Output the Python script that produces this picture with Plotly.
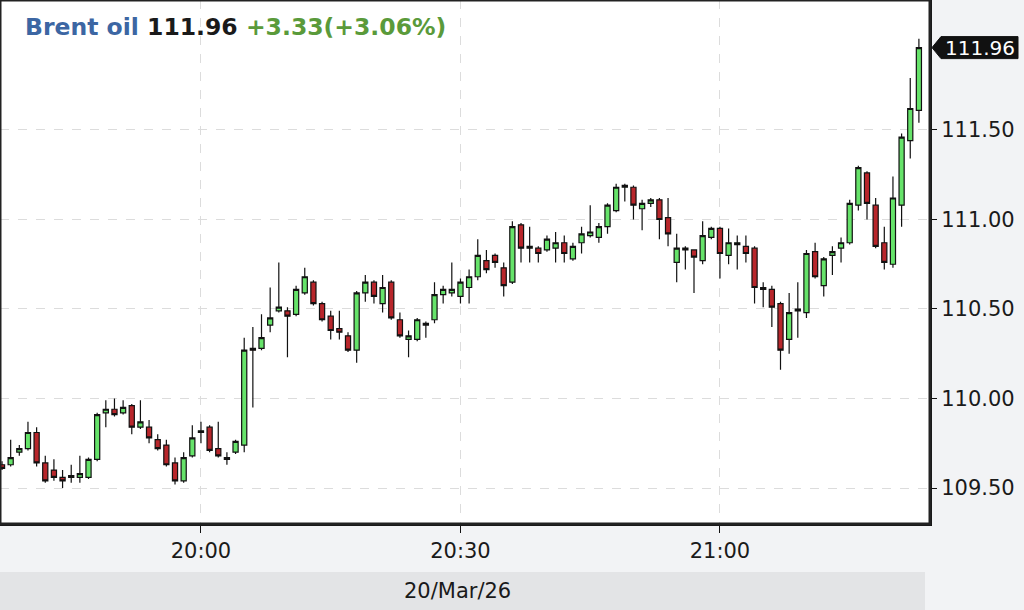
import pandas as pd
import plotly.graph_objects as go

# 1-minute candles, 20/Mar/26 19:37 .. 21:23
start_time = "2026-03-20 19:37"
opens = [109.63, 109.63, 109.70, 109.72, 109.81, 109.64, 109.60, 109.56, 109.56, 109.56,
         109.56, 109.66, 109.92, 109.94, 109.92, 109.96, 109.84, 109.84, 109.77, 109.74,
         109.64, 109.54, 109.68, 109.81, 109.84, 109.72, 109.66, 109.70, 109.74, 110.28,
         110.28, 110.41, 110.49, 110.49, 110.47, 110.59, 110.65, 110.53, 110.46, 110.39,
         110.35, 110.27, 110.59, 110.65, 110.53, 110.65, 110.44, 110.33, 110.33, 110.41,
         110.44, 110.58, 110.59, 110.57, 110.62, 110.68, 110.77, 110.80, 110.73, 110.65,
         110.97, 110.84, 110.84, 110.83, 110.84, 110.87, 110.78, 110.87, 110.91, 110.90,
         110.96, 111.05, 111.18, 111.18, 111.06, 111.09, 111.11, 111.01, 110.76, 110.84,
         110.83, 110.77, 110.90, 110.95, 110.80, 110.86, 110.85, 110.84, 110.61, 110.61,
         110.53, 110.33, 110.49, 110.48, 110.82, 110.63, 110.80, 110.84, 110.87, 111.08,
         111.26, 111.08, 110.87, 110.75, 111.08, 111.44, 111.61]
highs = [109.65, 109.77, 109.74, 109.87, 109.84, 109.68, 109.66, 109.60, 109.63, 109.68,
         109.67, 109.92, 109.99, 110.00, 109.99, 109.97, 109.99, 109.88, 109.80, 109.77,
         109.67, 109.70, 109.85, 109.87, 109.85, 109.87, 109.70, 109.77, 110.34, 110.40,
         110.47, 110.62, 110.76, 110.51, 110.63, 110.73, 110.66, 110.54, 110.49, 110.49,
         110.37, 110.60, 110.69, 110.66, 110.69, 110.66, 110.48, 110.38, 110.45, 110.43,
         110.65, 110.63, 110.76, 110.67, 110.72, 110.89, 110.83, 110.81, 110.76, 110.99,
         110.98, 110.96, 110.85, 110.91, 110.93, 110.91, 110.87, 110.96, 111.08, 110.98,
         111.09, 111.20, 111.20, 111.19, 111.11, 111.12, 111.12, 111.12, 110.92, 110.85,
         110.83, 110.99, 110.96, 110.96, 110.95, 110.91, 110.91, 110.85, 110.65, 110.63,
         110.54, 110.59, 110.65, 110.83, 110.87, 110.79, 110.85, 110.90, 111.11, 111.30,
         111.27, 111.12, 110.96, 111.24, 111.48, 111.79, 112.01]
lows = [109.60, 109.62, 109.68, 109.71, 109.62, 109.53, 109.54, 109.50, 109.53, 109.53,
        109.55, 109.65, 109.84, 109.90, 109.91, 109.80, 109.83, 109.75, 109.71, 109.62,
        109.52, 109.53, 109.67, 109.75, 109.70, 109.67, 109.63, 109.69, 109.70, 109.95,
        110.27, 110.37, 110.48, 110.23, 110.46, 110.58, 110.52, 110.43, 110.33, 110.33,
        110.26, 110.20, 110.54, 110.53, 110.48, 110.44, 110.34, 110.23, 110.32, 110.34,
        110.42, 110.53, 110.57, 110.53, 110.53, 110.66, 110.70, 110.73, 110.57, 110.64,
        110.76, 110.76, 110.76, 110.82, 110.76, 110.76, 110.77, 110.81, 110.90, 110.87,
        110.92, 111.04, 111.10, 111.00, 110.94, 111.07, 110.89, 110.85, 110.65, 110.72,
        110.59, 110.75, 110.89, 110.67, 110.75, 110.72, 110.76, 110.53, 110.51, 110.40,
        110.16, 110.25, 110.34, 110.45, 110.67, 110.57, 110.69, 110.76, 110.86, 111.05,
        111.00, 110.84, 110.72, 110.73, 110.96, 111.34, 111.54]
closes = [109.61, 109.67, 109.72, 109.81, 109.64, 109.54, 109.56, 109.54, 109.57, 109.58,
          109.66, 109.91, 109.94, 109.91, 109.95, 109.84, 109.87, 109.78, 109.72, 109.63,
          109.54, 109.67, 109.78, 109.82, 109.71, 109.68, 109.67, 109.76, 110.27, 110.27,
          110.34, 110.45, 110.51, 110.46, 110.61, 110.68, 110.53, 110.44, 110.38, 110.37,
          110.27, 110.59, 110.65, 110.57, 110.62, 110.45, 110.35, 110.35, 110.44, 110.42,
          110.58, 110.61, 110.61, 110.65, 110.68, 110.80, 110.72, 110.76, 110.63, 110.96,
          110.84, 110.85, 110.81, 110.89, 110.87, 110.81, 110.85, 110.92, 110.93, 110.96,
          111.08, 111.18, 111.19, 111.08, 111.09, 111.11, 111.00, 110.92, 110.84, 110.83,
          110.79, 110.91, 110.95, 110.81, 110.87, 110.87, 110.81, 110.62, 110.62, 110.51,
          110.27, 110.48, 110.50, 110.81, 110.68, 110.78, 110.82, 110.87, 111.09, 111.29,
          111.09, 110.85, 110.76, 111.12, 111.46, 111.62, 111.96]

instrument = "Brent oil"
last_price = "111.96"
change_text = "+3.33(+3.06%)"
date_label = "20/Mar/26"
y_ticks = [109.5, 110.0, 110.5, 111.0, 111.5]
x_range = ["2026-03-20 19:36:46", "2026-03-20 21:24:17"]
y_range = [109.299, 112.226]

times = pd.date_range(start_time, periods=len(closes), freq="1min")

FONT = "DejaVu Sans"
W, H = 1024, 610
ML, MR, MT, MB = 0, 94, 0, 86
plot_h = H - MT - MB
plot_w = W - ML - MR

fig = go.Figure()
fig.add_trace(go.Candlestick(
    x=times, open=opens, high=highs, low=lows, close=closes,
    increasing=dict(fillcolor="#66e36a", line=dict(color="#111111", width=1.2)),
    decreasing=dict(fillcolor="#b8262b", line=dict(color="#111111", width=1.2)),
    whiskerwidth=0, showlegend=False, hoverinfo="skip",
))

fig.update_layout(
    width=W, height=H,
    margin=dict(l=ML, r=MR, t=MT, b=MB, pad=0, autoexpand=False),
    paper_bgcolor="#f2f3f5", plot_bgcolor="#ffffff",
    font=dict(family=FONT, size=21, color="#1a1a1a"),
    showlegend=False,
    boxgap=0.15,
    xaxis=dict(
        range=x_range, type="date", rangeslider=dict(visible=False), automargin=False,
        dtick=30 * 60 * 1000, tick0="2026-03-20 20:00", tickformat="%H:%M",
        showgrid=True, gridcolor="#dcdcdc", griddash="dash", gridwidth=1,
        showline=True, linecolor="#111111", linewidth=2, mirror=True,
        ticks="outside", ticklen=7, tickcolor="#111111",
        tickfont=dict(family=FONT, size=21, color="#1a1a1a"), zeroline=False,
    ),
    yaxis=dict(
        range=y_range, side="right", tickvals=y_ticks, automargin=False,
        ticktext=[f"{v:.2f}" for v in y_ticks],
        showgrid=True, gridcolor="#dcdcdc", griddash="dash", gridwidth=1,
        showline=True, linecolor="#111111", linewidth=2, mirror=True,
        ticks="outside", ticklen=5, tickcolor="#111111",
        tickfont=dict(family=FONT, size=21, color="#1a1a1a"), zeroline=False,
    ),
)

# plot frame (top/left edges visible inside the page)
fig.add_shape(type="rect", xref="paper", yref="paper", x0=0, x1=1, y0=0, y1=1,
              line=dict(color="#222222", width=3), fillcolor="rgba(0,0,0,0)", layer="above")

# date band under the time axis
fig.add_shape(type="rect", xref="paper", yref="paper",
              x0=0, x1=925 / plot_w, y0=-(610 - 524) / plot_h, y1=-(572 - 524) / plot_h,
              fillcolor="#e3e4e6", line=dict(width=0), layer="below")
fig.add_annotation(text=date_label, xref="paper", yref="paper",
                   x=457 / plot_w, y=-(591 - 524) / plot_h, showarrow=False,
                   xanchor="center", yanchor="middle",
                   font=dict(family=FONT, size=21, color="#1a1a1a"))

# header
fig.add_annotation(
    text=(f"<b><span style='color:#3c66a3'>{instrument}</span> "
          f"<span style='color:#1a1a1a'>{last_price}</span> "
          f"<span style='color:#5a9a3a'>{change_text}</span></b>"),
    xref="paper", yref="paper", x=23 / plot_w, y=1 - 27 / plot_h,
    xanchor="left", yanchor="middle", showarrow=False,
    font=dict(family=FONT, size=23.5))

# last price marker
fig.add_shape(type="path", xref="paper", yref="y",
              xsizemode="pixel", ysizemode="pixel", xanchor=1.0, yanchor=closes[-1],
              path="M 2 0 L 11 11 L 88 11 L 88 -11 L 11 -11 Z",
              fillcolor="#111111", line=dict(color="#111111", width=1))
fig.add_annotation(text=last_price, xref="paper", yref="y",
                   x=1.0, y=closes[-1], xshift=50, showarrow=False,
                   xanchor="center", yanchor="middle",
                   font=dict(family=FONT, size=20, color="#ffffff"))

fig.write_html(
    "out.html",
    config={"displayModeBar": False},
    post_script="document.body.style.margin='0';document.body.style.overflow='hidden';",
)
